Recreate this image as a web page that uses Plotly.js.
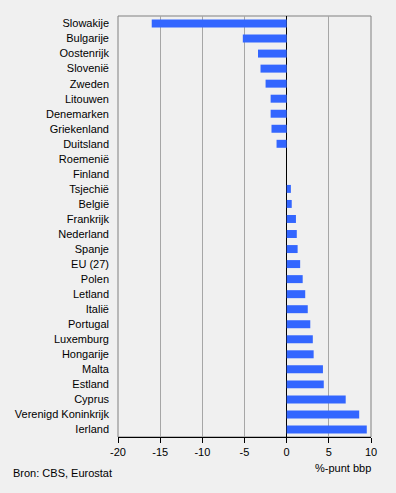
<!DOCTYPE html>
<html>
<head>
<meta charset="utf-8">
<script src="https://cdn.plot.ly/plotly-3.0.1.min.js"></script>
<style>html,body{margin:0;padding:0;background:#f0f0f0;}#chart{width:396px;height:493px;}</style>
</head>
<body>
<div id="chart"></div>
<script>
const countries = ["Slowakije","Bulgarije","Oostenrijk","Slovenië","Zweden","Litouwen","Denemarken","Griekenland","Duitsland","Roemenië","Finland","Tsjechië","België","Frankrijk","Nederland","Spanje","EU (27)","Polen","Letland","Italië","Portugal","Luxemburg","Hongarije","Malta","Estland","Cyprus","Verenigd Koninkrijk","Ierland"];
const values = [-16.0,-5.2,-3.4,-3.1,-2.5,-1.9,-1.9,-1.8,-1.2,0,0,0.5,0.6,1.1,1.2,1.3,1.6,1.9,2.2,2.5,2.8,3.1,3.2,4.3,4.4,7.0,8.6,9.5];
const xTicks = [-20,-15,-10,-5,0,5,10];
const xTitle = "%-punt bbp";
const source = "Bron: CBS, Eurostat";

const font = {family: "Arial, 'Liberation Sans', sans-serif", size: 11, color: "#000"};

Plotly.newPlot("chart", [{
  type: "bar",
  orientation: "h",
  x: values,
  y: countries,
  marker: {color: "#3366ff", line: {width: 0}},
  hoverinfo: "x+y"
}], {
  width: 396, height: 493,
  margin: {l: 117.5, r: 25, t: 16, b: 56, pad: 0},
  paper_bgcolor: "#f0f0f0",
  plot_bgcolor: "#f0f0f0",
  font: font,
  bargap: 0.47,
  showlegend: false,
  xaxis: {
    range: [-20, 10],
    tickvals: xTicks,
    ticktext: xTicks.map(String),
    showgrid: true, gridcolor: "#a6a6a6", gridwidth: 1,
    zeroline: true, zerolinecolor: "#000", zerolinewidth: 1,
    showline: true, linecolor: "#000", linewidth: 1,
    ticks: "outside", ticklen: 5, tickcolor: "#000",
    tickfont: font,
    fixedrange: true
  },
  yaxis: {
    type: "category",
    autorange: "reversed",
    showgrid: false, zeroline: false,
    showline: false,
    ticks: "", ticklabelstandoff: 8,
    tickfont: font,
    fixedrange: true
  },
  shapes: [{
    type: "rect", xref: "paper", yref: "paper", x0: 0, x1: 1, y0: 0, y1: 1,
    line: {color: "#808080", width: 1}, fillcolor: "rgba(0,0,0,0)", layer: "below"
  }],
  annotations: [
    {text: xTitle, xref: "paper", yref: "paper", x: 1, y: 0, yshift: -23, xshift: 2, xanchor: "right", yanchor: "top", showarrow: false, font: font},
    {text: source, xref: "paper", yref: "paper", x: -117.5/253.5 + 10/253.5, y: 0, yshift: -28, xanchor: "left", yanchor: "top", showarrow: false, font: font}
  ]
}, {displayModeBar: false, staticPlot: false});
</script>
</body>
</html>
